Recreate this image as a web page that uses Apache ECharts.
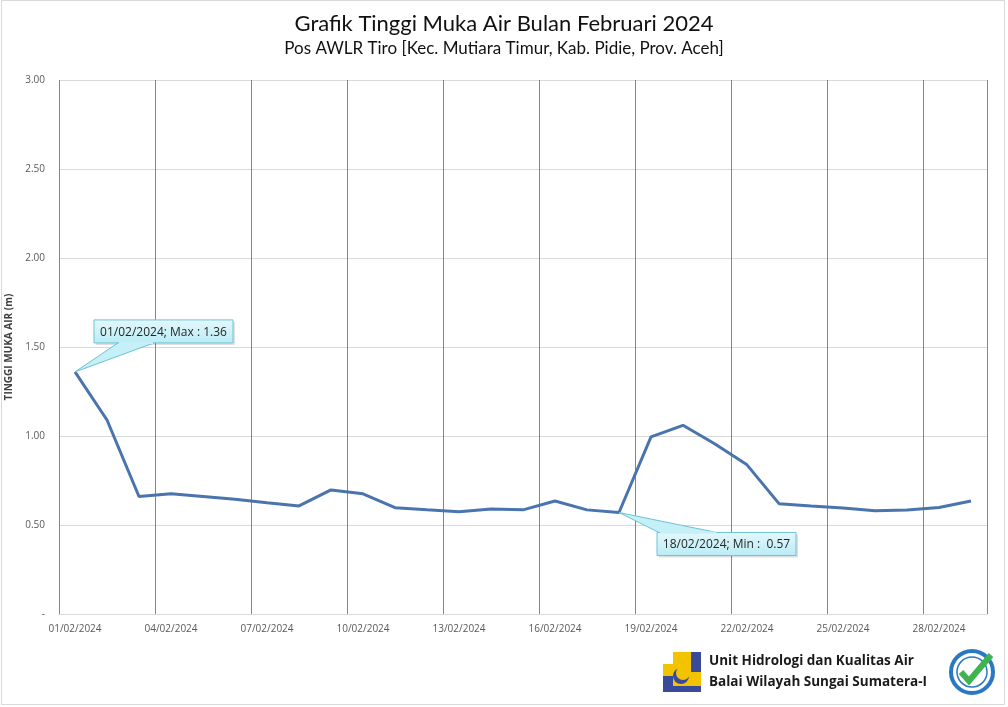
<!DOCTYPE html>
<html>
<head>
<meta charset="utf-8">
<style>
  html, body { margin: 0; padding: 0; background: #fff; }
  #chart { width: 1008px; height: 707px; }
</style>
<script src="https://cdn.jsdelivr.net/npm/echarts@6/dist/echarts.min.js"></script>
</head>
<body>
<div id="chart"></div>
<script>
// tanggal pengamatan
const dates = [
    '01/02/2024', '02/02/2024', '03/02/2024', '04/02/2024', '05/02/2024', '06/02/2024',
    '07/02/2024', '08/02/2024', '09/02/2024', '10/02/2024', '11/02/2024', '12/02/2024',
    '13/02/2024', '14/02/2024', '15/02/2024', '16/02/2024', '17/02/2024', '18/02/2024',
    '19/02/2024', '20/02/2024', '21/02/2024', '22/02/2024', '23/02/2024', '24/02/2024',
    '25/02/2024', '26/02/2024', '27/02/2024', '28/02/2024', '29/02/2024'
]
// tinggi muka air (m)
const levels = [
    1.36, 1.09, 0.66, 0.675, 0.66, 0.645,
    0.625, 0.607, 0.697, 0.675, 0.597, 0.585,
    0.575, 0.59, 0.585, 0.635, 0.585, 0.57,
    0.995, 1.06, 0.955, 0.838, 0.62, 0.607,
    0.595, 0.58, 0.584, 0.598, 0.635
]
const yTicks = [0, 0.5, 1, 1.5, 2, 2.5, 3]

function getCallouts() {
    let maxI = 0, minI = 0
    levels.forEach((v, i) => {
        if (v > levels[maxI]) maxI = i
        if (v < levels[minI]) minI = i
    })
    return [
        [maxI, levels[maxI], dates[maxI] + '; Max : ' + levels[maxI].toFixed(2), 'max'],
        [minI, levels[minI], dates[minI] + '; Min :  ' + levels[minI].toFixed(2), 'min'],
    ]
}

function renderCallout(params, api) {
    const p = api.coord([api.value(0), api.value(1)])
    const kind = api.value(3)
    const text = api.value(2)
    // offset kotak relatif ke titik
    let box, wedge
    if (kind === 'max') {
        box = { x: p[0] + 19, y: p[1] - 52, width: 139, height: 23 }
        wedge = [[p[0], p[1]], [box.x + 24, box.y + box.height], [box.x + 60, box.y + box.height]]
    } else {
        box = { x: p[0] + 38, y: p[1] + 20, width: 139, height: 23 }
        wedge = [[p[0], p[1]], [box.x + 2, box.y], [box.x + 60, box.y]]
    }
    const fill = new echarts.graphic.LinearGradient(0, 0, 0, 1, [
        { offset: 0, color: '#e4f8fc' },
        { offset: 1, color: '#b9ecf6' },
    ])
    return {
        type: 'group',
        children: [
            {
                type: 'rect',
                shape: { x: box.x + 2, y: box.y + 2, width: box.width, height: box.height },
                style: { fill: 'rgba(0,0,0,0.12)' },
            },
            {
                type: 'rect',
                shape: box,
                style: { fill: fill, stroke: '#6cc3d6', lineWidth: 1 },
            },
            {
                type: 'polygon',
                shape: { points: wedge },
                style: { fill: '#c6f0f8', stroke: '#6cc3d6', lineWidth: 1 },
            },
            {
                type: 'line',
                shape: { x1: wedge[1][0] + 1, y1: wedge[1][1], x2: wedge[2][0] - 1, y2: wedge[2][1] },
                style: { stroke: '#c6f0f8', lineWidth: 2 },
            },
            {
                type: 'text',
                style: {
                    x: box.x + box.width / 2,
                    y: box.y + box.height / 2 + 1,
                    text: text,
                    align: 'center',
                    verticalAlign: 'middle',
                    fill: '#262626',
                    font: '12px "Open Sans", sans-serif',
                },
            },
        ],
    }
}

function getOptions() {
    const option = {
        animation: false,
        backgroundColor: '#fff',
        title: {
            text: 'Grafik Tinggi Muka Air Bulan Februari 2024',
            subtext: 'Pos AWLR Tiro [Kec. Mutiara Timur, Kab. Pidie, Prov. Aceh]',
            left: 'center',
            top: 8,
            itemGap: 5,
            textStyle: {
                fontFamily: 'Lato',
                fontSize: 22,
                fontWeight: 'normal',
                color: '#111',
            },
            subtextStyle: {
                fontFamily: 'Lato',
                fontSize: 17,
                color: '#111',
            },
        },
        grid: {
            left: 59,
            right: 21,
            top: 80,
            bottom: 93,
            outerBoundsMode: 'none',
            containLabel: false,
        },
        xAxis: {
            type: 'category',
            data: dates,
            boundaryGap: true,
            axisLine: { lineStyle: { color: '#d9d9d9' } },
            axisTick: { show: false },
            axisLabel: {
                interval: 2,
                color: '#595959',
                fontFamily: 'Open Sans',
                fontSize: 10,
                margin: 10,
            },
            splitLine: {
                show: true,
                interval: 2,
                lineStyle: { color: '#858585', width: 1 },
            },
        },
        yAxis: {
            type: 'value',
            min: yTicks[0],
            max: yTicks[yTicks.length - 1],
            interval: 0.5,
            name: 'TINGGI MUKA AIR (m)',
            nameLocation: 'middle',
            nameGap: 45,
            nameTextStyle: {
                fontFamily: 'Open Sans',
                fontSize: 10,
                fontWeight: 'bold',
                color: '#404040',
            },
            axisLine: { show: false },
            axisTick: { show: false },
            axisLabel: {
                color: '#595959',
                fontFamily: 'Open Sans',
                fontSize: 10,
                margin: 14,
                formatter: v => v === 0 ? '-' : v.toFixed(2),
            },
            splitLine: { lineStyle: { color: '#d9d9d9' } },
        },
        series: [
            {
                type: 'line',
                data: levels,
                showSymbol: false,
                symbol: 'none',
                lineStyle: { color: '#4a74ad', width: 3 },
                z: 3,
            },
            {
                type: 'custom',
                renderItem: renderCallout,
                data: getCallouts(),
                z: 5,
                silent: true,
            },
        ],
        graphic: [
            // bingkai luar
            {
                type: 'rect',
                shape: { x: 1.5, y: 0.5, width: 1003, height: 704 },
                style: { fill: 'none', stroke: '#d9d9d9', lineWidth: 1 },
                silent: true,
            },
            // logo PU (kira-kira)
            {
                type: 'group',
                left: 663,
                top: 652,
                children: [
                    { type: 'rect', shape: { x: 0, y: 0, width: 38, height: 40 }, style: { fill: '#f3c300' } },
                    { type: 'rect', shape: { x: 0, y: 0, width: 10, height: 12 }, style: { fill: '#fff' } },
                    { type: 'rect', shape: { x: 28, y: 0, width: 10, height: 20 }, style: { fill: '#3a4a9b' } },
                    { type: 'rect', shape: { x: 0, y: 24, width: 10, height: 16 }, style: { fill: '#3a4a9b' } },
                    { type: 'rect', shape: { x: 10, y: 34, width: 28, height: 6 }, style: { fill: '#3a4a9b' } },
                    { type: 'circle', shape: { cx: 18, cy: 24, r: 8 }, style: { fill: '#3a4a9b' } },
                    { type: 'circle', shape: { cx: 20, cy: 21, r: 7 }, style: { fill: '#f3c300' } },
                ],
            },
            {
                type: 'text',
                left: 709,
                top: 651,
                style: {
                    text: 'Unit Hidrologi dan Kualitas Air\nBalai Wilayah Sungai Sumatera-I',
                    font: 'bold 13.5px "Open Sans", sans-serif',
                    lineHeight: 21,
                    fill: '#1a1a1a',
                },
            },
            // lencana sertifikasi
            {
                type: 'group',
                left: 949,
                top: 649,
                children: [
                    { type: 'circle', shape: { cx: 23, cy: 23, r: 21 }, style: { fill: '#fff', stroke: '#2a78c2', lineWidth: 4 } },
                    { type: 'circle', shape: { cx: 23, cy: 23, r: 15 }, style: { fill: '#fff', stroke: '#2a78c2', lineWidth: 1.5 } },
                    { type: 'polyline', shape: { points: [[12, 23], [20, 32], [42, 6]] }, style: { fill: 'none', stroke: '#3fb34f', lineWidth: 6 } },
                ],
            },
        ],
    }
    return option
}

function draw() {
    const chart = echarts.init(document.getElementById('chart'))
    chart.setOption(getOptions())
}

draw()
</script>
</body>
</html>
